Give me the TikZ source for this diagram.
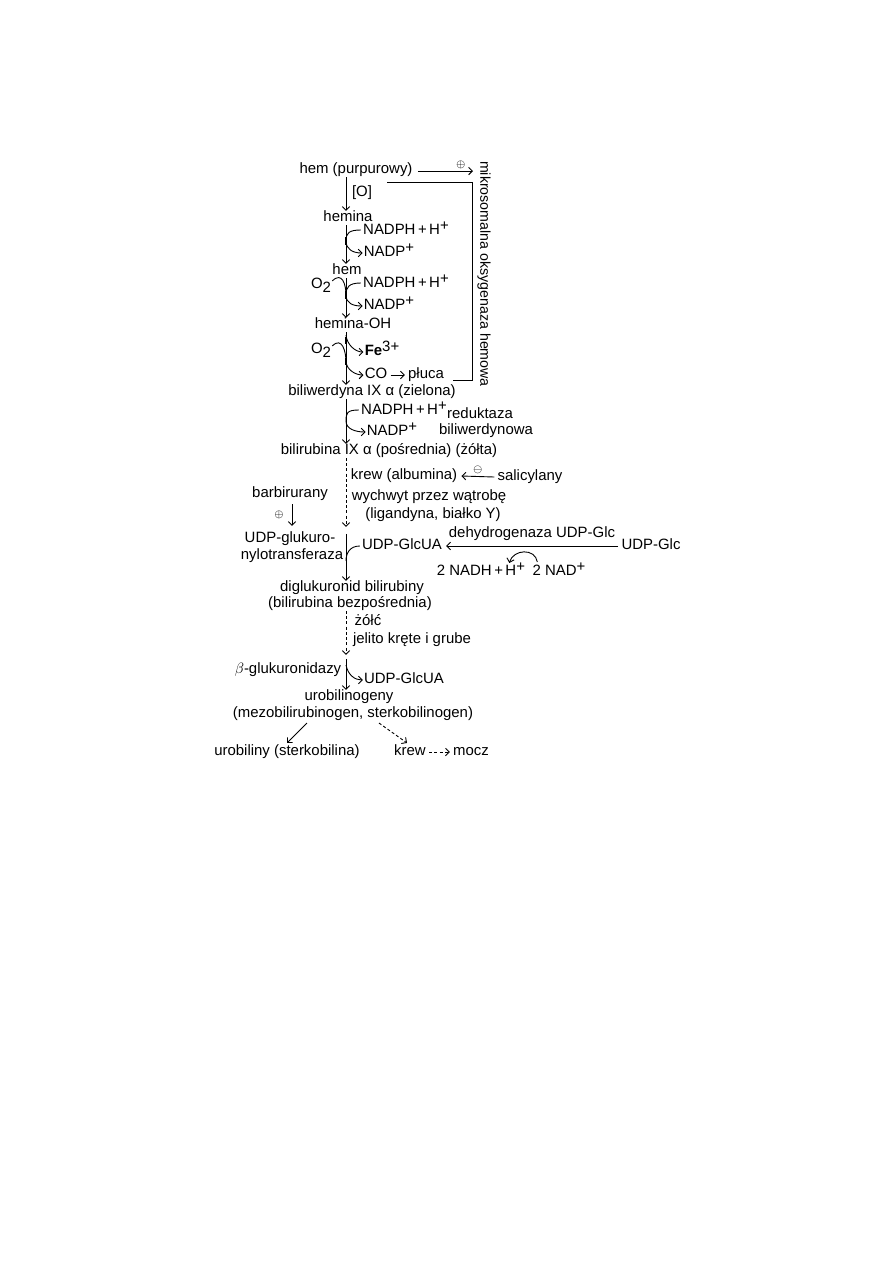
\documentclass[tikz,border=0pt]{standalone}
\usepackage{fontspec}
\setmainfont{Liberation Sans}
\usetikzlibrary{arrows.meta,calc}

\newcommand{\supx}[1]{\raisebox{0.6ex}{#1}}
\newcommand{\subx}[1]{\raisebox{-0.45ex}{#1}}

\begin{document}
\begin{tikzpicture}[
  x=0.02352cm, y=-0.02352cm,
  every node/.style={inner sep=0pt, text height=7pt, text depth=2pt, font=\fontsize{10}{12}\selectfont},
  arr/.style={-{Straight Barb[length=2.5pt,width=5pt]}, line width=0.6pt},
  darr/.style={arr, dash pattern=on 2pt off 1.5pt},
  link/.style={line width=0.6pt},
  jn/.style={line width=1.8pt},
  sign/.style={font=\scriptsize, text height=, text depth=}
]
\useasboundingbox (0,0) rectangle (893,1263);
\coordinate (ax) at (346,0);

% heme oxygenase part
\node (hem) at (356,170) {hem (purpurowy)};
\node (oxO) at (362,193) {[O]};
\node (hemina) at (348,218) {hemina};
\node (nadphA) at (406,231) {NADPH\,+\,H\supx{+}};
\node (nadpA) at (389,253) {NADP\supx{+}};
\node (hemB) at (347,271) {hem};
\node (oA) at (321,285) {O\subx{2}};
\node (nadphB) at (406,284) {NADPH\,+\,H\supx{+}};
\node (nadpB) at (389,306) {NADP\supx{+}};
\node (heminaOH) at (353,325) {hemina-OH};
\node (oB) at (321,350) {O\subx{2}};
\node (fe) at (382,352) {\textbf{Fe}\supx{3+}};
\node (co) at (376,375) {CO};
\node (pluca) at (426,375) {płuca};
\node (biliw) at (372,392) {biliwerdyna IX α (zielona)};
\node[rotate=-90, font=\fontsize{9.5}{11}\selectfont] (enzA) at (484,274) {mikrosomalna oksygenaza hemowa};
\coordinate (oxtip) at (473,171);

\draw[arr] ($(hem.east)+(5,1)$) -- (oxtip) node[pos=0.78, above=1pt, sign] {$\oplus$};
\draw[link] (387,182) -| (472,380) -- (453,380);

\draw[arr] (hem.south -| ax) -- (hemina.north -| ax);
\draw[arr] (hemina.south -| ax) -- (hemB.north -| ax);
\draw[arr] (hemB.south -| ax) -- (heminaOH.north -| ax);
\draw[arr] (heminaOH.south -| ax) -- (biliw.north -| ax);
\draw[arr] ($(co.east)+(3,0)$) -- ($(pluca.west)+(-3,0)$);

% cofactors
\coordinate (jA) at (346,241);
\coordinate (jB) at (346,295);
\coordinate (jC) at (346,341);
\coordinate (jD) at (346,362);
\draw[link] ($(nadphA.west)+(-2,-1)$) .. controls +(-12,0) and +(0,-8) .. (jA);
\draw[arr] (jA) .. controls +(0,8) and +(-10,0) .. ($(nadpA.west)+(-1,0)$);
\draw[jn] ($(jA)+(0,-4)$) -- ($(jA)+(0,4)$);
\draw[link] ($(oA.north east)+(1,3)$) .. controls +(10,-10) and +(0,-10) .. (jB);
\draw[link] ($(nadphB.west)+(-2,-1)$) .. controls +(-12,0) and +(0,-8) .. (jB);
\draw[arr] (jB) .. controls +(0,8) and +(-10,0) .. ($(nadpB.west)+(-1,0)$);
\draw[jn] ($(jB)+(0,-4)$) -- ($(jB)+(0,4)$);
\draw[arr] ($(jC)+(0,-6)$) .. controls +(1,10) and +(-8,0) .. ($(fe.west)+(-1,0)$);
\draw[jn] ($(jC)+(0,-4)$) -- ($(jC)+(0,3)$);
\draw[link] ($(oB.north east)+(1,3)$) .. controls +(10,-10) and +(0,-10) .. (jD);
\draw[arr] (jD) .. controls +(1,8) and +(-8,0) .. ($(co.west)+(-1,0)$);
\draw[jn] ($(jD)+(0,-4)$) -- ($(jD)+(0,3)$);

% biliverdin reductase
\node (nadphC) at (404,411) {NADPH\,+\,H\supx{+}};
\node (nadpC) at (392,432) {NADP\supx{+}};
\node (redA) at (480,415) {reduktaza};
\node (redB) at (486,431) {biliwerdynowa};
\node (bilir) at (389,451) {bilirubina IX α (pośrednia) (żółta)};
\coordinate (jE) at (346,421);
\draw[arr] (biliw.south -| ax) -- (bilir.north -| ax);
\draw[link] ($(nadphC.west)+(-2,-1)$) .. controls +(-12,0) and +(0,-8) .. (jE);
\draw[arr] (jE) .. controls +(0,8) and +(-10,0) .. ($(nadpC.west)+(-1,0)$);

% transport and uptake
\node (krew) at (404,476) {krew (albumina)};
\node (salic) at (530,477) {salicylany};
\node (wych) at (429,497) {wychwyt przez wątrobę};
\node (ligand) at (433,515) {(ligandyna, białko Y)};
\node (barb) at (290,494) {barbirurany};
\node[sign] (plusB) at (279,515) {$\oplus$};
\node (udpA) at (290,539) {UDP-glukuro-};
\node (udpB) at (292,556) {nylotransferaza};
\draw[arr] ($(salic.west)+(-3,0)$) -- ($(krew.east)+(4,0)$) node[midway, above=1.5pt, sign] {$\ominus$};
\draw[darr] (bilir.south -| ax) -- ($(udpA.north -| ax)+(0,-5)$);
\draw[arr] ($(barb.south)+(2,3)$) -- ($(udpA.north)+(2,-6)$);

% conjugation
\node (glcua) at (402,546) {UDP-GlcUA};
\node (udpglc) at (651,546) {UDP-Glc};
\node (dehyd) at (532,534) {dehydrogenaza UDP-Glc};
\node (nadh) at (481,572) {2 NADH\,+\,H\supx{+}};
\node (nad) at (559,572) {2 NAD\supx{+}};
\node (digluk) at (352,588) {diglukuronid bilirubiny};
\node (bezp) at (350,604) {(bilirubina bezpośrednia)};
\coordinate (jF) at (346,561);
\draw[arr] ($(udpA.north -| ax)+(0,2)$) -- (digluk.north -| ax);
\draw[link] ($(glcua.west)+(-2,0)$) .. controls +(-10,0) and +(0,-8) .. (jF);
\draw[arr] ($(udpglc.west)+(-3,0)$) -- ($(glcua.east)+(4,0)$);
\draw[arr] ($(nad.north west)+(5,-3)$) .. controls +(-2,-14) and +(4,-14) .. ($(nadh.north east)+(-16,-2)$);

% intestine
\node (zolc) at (368,622) {żółć};
\node (jelito) at (412,640) {jelito kręte i grube};
\node (betag) at (288,670) {$\beta$-glukuronidazy};
\node (glcuaB) at (404,680) {UDP-GlcUA};
\node (urobgen) at (349,697) {urobilinogeny};
\node (mezo) at (353,714) {(mezobilirubinogen, sterkobilinogen)};
\node (urobil) at (287,752) {urobiliny (sterkobilina)};
\node (krewB) at (410,752) {krew};
\node (mocz) at (471,752) {mocz};
\coordinate (jG) at (346,665);
\draw[darr] (bezp.south -| ax) -- ($(betag.north -| ax)+(0,-8)$);
\draw[arr] ($(betag.north -| ax)+(0,-4)$) -- (urobgen.north -| ax);
\draw[arr] (jG) .. controls +(2,10) and +(-8,0) .. ($(glcuaB.west)+(-1,0)$);
\draw[arr] ($(mezo.south)+(-46,2)$) -- ($(urobil.north)+(0,-2)$);
\draw[darr] ($(mezo.south)+(26,2)$) -- ($(krewB.north)+(-3,-2)$);
\draw[darr] ($(krewB.east)+(3,0)$) -- ($(mocz.west)+(-3,0)$);
\end{tikzpicture}
\end{document}
